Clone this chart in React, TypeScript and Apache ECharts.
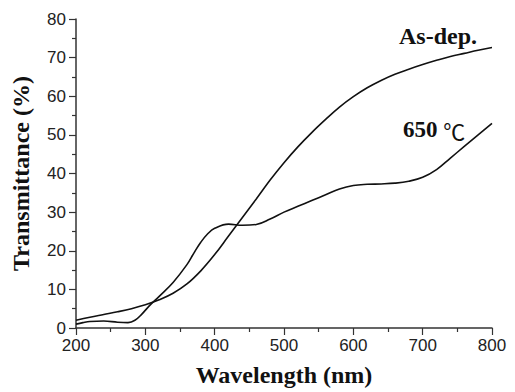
import React, { useEffect, useRef } from "react";
import * as echarts from "echarts";

const asDepWavelength = [200, 220, 240, 260, 280, 300, 320, 340, 360, 380, 400, 420, 440, 460, 480, 500, 520, 540, 560, 580, 600, 620, 640, 660, 680, 700, 720, 740, 760, 780, 800];
const asDepT = [2.0, 2.8, 3.5, 4.2, 5.0, 6.0, 7.3, 9.0, 11.4, 14.8, 19.0, 23.8, 28.6, 33.4, 38.3, 42.8, 46.9, 50.6, 54.0, 57.2, 59.9, 62.2, 64.1, 65.7, 67.0, 68.2, 69.3, 70.3, 71.1, 71.9, 72.6];

const annealWavelength = [200, 210, 220, 240, 260, 275, 285, 295, 305, 320, 340, 360, 370, 380, 390, 400, 420, 440, 460, 480, 500, 520, 540, 560, 580, 600, 620, 640, 660, 680, 700, 720, 740, 760, 780, 800];
const annealT = [1.0, 1.4, 1.7, 1.8, 1.5, 1.4, 2.0, 3.6, 5.6, 8.2, 11.8, 16.4, 19.4, 22.2, 24.4, 25.8, 26.9, 26.6, 26.8, 28.2, 30.0, 31.5, 33.0, 34.5, 36.0, 36.9, 37.2, 37.3, 37.5, 38.0, 39.0, 41.0, 44.0, 47.0, 50.0, 53.0];

const xTitle = "Wavelength (nm)";
const yTitle = "Transmittance (%)";
const label1 = "As-dep.";
const label2Num = "650 ";
const label2Unit = "℃";

const serif = "Liberation Serif, Times New Roman, serif";

export default function App() {
  const ref = useRef<HTMLDivElement>(null);
  useEffect(() => {
    if (!ref.current) return;
    const chart = echarts.init(ref.current, undefined, { renderer: "svg" });
    const axisCommon = {
      axisLine: { show: true, lineStyle: { color: "#333", width: 1.5 } },
      axisTick: { show: true, inside: false, length: 7, lineStyle: { color: "#333", width: 1.2 } },
      minorTick: { show: true, splitNumber: 2, length: 4, lineStyle: { color: "#333", width: 1.2 } },
      splitLine: { show: false },
      axisLabel: { color: "#222", fontSize: 17, fontFamily: "Liberation Sans, Arial, sans-serif" },
      nameTextStyle: { color: "#111", fontSize: 24, fontWeight: "bold", fontFamily: serif },
    };
    chart.setOption({
      animation: false,
      grid: { left: 76, right: 23, top: 19, bottom: 62 },
      xAxis: {
        type: "value",
        min: 200,
        max: 800,
        interval: 100,
        name: xTitle,
        nameLocation: "middle",
        nameGap: 35,
        ...axisCommon,
        axisLabel: { ...axisCommon.axisLabel, margin: 9 },
      },
      yAxis: {
        type: "value",
        min: 0,
        max: 80,
        interval: 10,
        name: yTitle,
        nameLocation: "middle",
        nameGap: 43,
        ...axisCommon,
        axisLabel: { ...axisCommon.axisLabel, margin: 10 },
      },
      series: [
        {
          type: "line",
          data: asDepWavelength.map((w, i) => [w, asDepT[i]]),
          smooth: 0.4,
          showSymbol: false,
          lineStyle: { color: "#111", width: 1.6 },
        },
        {
          type: "line",
          data: annealWavelength.map((w, i) => [w, annealT[i]]),
          smooth: 0.4,
          showSymbol: false,
          lineStyle: { color: "#111", width: 1.6 },
        },
      ],
      graphic: [
        {
          type: "text",
          left: 399,
          top: 24,
          style: { text: label1, fontSize: 24, fontWeight: "bold", fill: "#111", fontFamily: serif },
        },
        {
          type: "text",
          left: 403,
          top: 118,
          style: {
            text: "{a|" + label2Num + "}{b|" + label2Unit + "}",
            rich: {
              a: { fontSize: 23, fontWeight: "bold", fill: "#111", fontFamily: serif },
              b: { fontSize: 22, fontWeight: "normal", fill: "#111", fontFamily: "Noto Sans CJK SC, sans-serif" },
            },
          },
        },
      ],
    });
    return () => chart.dispose();
  }, []);
  return <div ref={ref} style={{ width: 515, height: 392, position: "absolute", left: 0, top: 0 }} />;
}
